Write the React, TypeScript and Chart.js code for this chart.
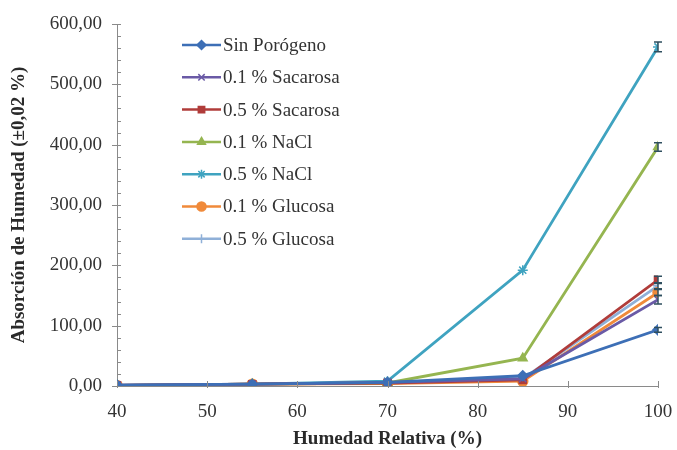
import React, { useEffect, useRef } from "react";
import { Chart, registerables } from "chart.js";
import { drawPoint } from "chart.js/helpers";

Chart.register(...registerables);

const humedad = [40, 55, 70, 85, 100];
const seriesNames = [
  "Sin Porógeno",
  "0.1 % Sacarosa",
  "0.5 % Sacarosa",
  "0.1 % NaCl",
  "0.5 % NaCl",
  "0.1 % Glucosa",
  "0.5 % Glucosa",
];
const sinPorogeno = [1.5, 3, 6, 17, 93];
const sacarosa01 = [1.5, 3, 6, 12, 143];
const sacarosa05 = [1, 3, 5, 10, 176];
const nacl01 = [1, 3, 5, 46, 396];
const nacl05 = [1, 3, 8, 192, 562];
const glucosa01 = [1, 3, 4, 8, 155];
const glucosa05 = [1, 3, 5, 12, 166];
const errors100 = [4, 7, 6, 7, 8, 5, 5];
const yTickValues = [0, 100, 200, 300, 400, 500, 600];
const xTickValues = [40, 50, 60, 70, 80, 90, 100];

const colors = ["#3D6FB6", "#6A5AA6", "#B03C3A", "#95B550", "#3FA3C0", "#F08A3A", "#8FB0D8"];
const pointStyles = ["rectRot", "crossRot", "rect", "triangle", "star", "circle", "cross"];
const allSeries = [sinPorogeno, sacarosa01, sacarosa05, nacl01, nacl05, glucosa01, glucosa05];

const SERIF = "'Liberation Serif', 'Times New Roman', serif";
const TEXT = "#333333";

const extrasPlugin = {
  id: "extras",
  afterDatasetsDraw(chart: any) {
    const ctx = chart.ctx;
    const xs = chart.scales.x;
    const ys = chart.scales.y;
    chart.data.datasets.forEach((ds: any, i: number) => {
      const last = ds.data[ds.data.length - 1];
      const px = xs.getPixelForValue(last.x);
      const top = ys.getPixelForValue(last.y + errors100[i]);
      const bot = ys.getPixelForValue(last.y - errors100[i]);
      ctx.save();
      ctx.strokeStyle = "#2f4f5f";
      ctx.lineWidth = 1.5;
      ctx.beginPath();
      ctx.moveTo(px, top);
      ctx.lineTo(px, bot);
      ctx.moveTo(px - 4, top);
      ctx.lineTo(px + 4, top);
      ctx.moveTo(px - 4, bot);
      ctx.lineTo(px + 4, bot);
      ctx.stroke();
      ctx.restore();
    });
  },
  afterDraw(chart: any) {
    const ctx = chart.ctx;
    const xs = chart.scales.x;
    const ys = chart.scales.y;
    const area = chart.chartArea;
    ctx.save();
    ctx.strokeStyle = "#8a8a8a";
    ctx.lineWidth = 1;
    ctx.beginPath();
    for (let v = 0; v <= 600; v += 20) {
      const py = Math.round(ys.getPixelForValue(v)) + 0.5;
      const major = v % 100 === 0;
      ctx.moveTo(area.left - (major ? 5 : 0), py);
      ctx.lineTo(area.left + 4, py);
    }
    xTickValues.forEach((v) => {
      const px = Math.round(xs.getPixelForValue(v)) + 0.5;
      ctx.moveTo(px, area.bottom - 5);
      ctx.lineTo(px, area.bottom + 2);
    });
    ctx.stroke();
    ctx.restore();

    // legend
    const lx = 182;
    const ly0 = 45;
    const dy = 32.3;
    ctx.save();
    ctx.font = `19px ${SERIF}`;
    ctx.textBaseline = "middle";
    chart.data.datasets.forEach((ds: any, i: number) => {
      const y = ly0 + i * dy;
      ctx.strokeStyle = ds.borderColor;
      ctx.lineWidth = 2.5;
      ctx.beginPath();
      ctx.moveTo(lx, y);
      ctx.lineTo(lx + 39, y);
      ctx.stroke();
      ctx.fillStyle = ds.borderColor;
      ctx.lineWidth = 1.5;
      drawPoint(
        ctx,
        { pointStyle: ds.pointStyle, radius: 4.5, borderWidth: 1.5, rotation: 0 },
        lx + 19.5,
        y
      );
      ctx.fillStyle = TEXT;
      ctx.fillText(ds.label, lx + 41, y + 1);
    });
    ctx.restore();
  },
};

export default function App() {
  const ref = useRef<HTMLCanvasElement | null>(null);
  useEffect(() => {
    if (!ref.current) return;
    const datasets = allSeries.map((vals, i) => ({
      label: seriesNames[i],
      data: vals.map((v, j) => ({ x: humedad[j], y: v })),
      borderColor: colors[i],
      backgroundColor: colors[i],
      pointBackgroundColor: colors[i],
      pointBorderColor: colors[i],
      pointStyle: pointStyles[i],
      pointRadius: 5,
      pointBorderWidth: 1.5,
      borderWidth: 2.8,
      tension: 0,
    }));
    const chart = new Chart(ref.current, {
      type: "line",
      data: { datasets },
      options: {
        animation: false,
        responsive: false,
        layout: { padding: { top: 24, right: 19, left: 8, bottom: 0 } },
        plugins: { legend: { display: false }, tooltip: { enabled: false } },
        scales: {
          x: {
            type: "linear",
            min: 40,
            max: 100,
            afterFit: (s: any) => {
              s.height = 64;
              s.paddingLeft = 0;
              s.paddingRight = 0;
            },
            afterBuildTicks: (s: any) => {
              s.ticks = xTickValues.map((v) => ({ value: v }));
            },
            grid: { display: true, drawOnChartArea: false, drawTicks: false },
            border: { display: true, color: "#8a8a8a", width: 1 },
            ticks: {
              padding: 15,
              color: TEXT,
              font: { family: SERIF, size: 19 },
            },
            title: {
              display: true,
              text: "Humedad Relativa (%)",
              color: "#2a2a2a",
              font: { family: SERIF, size: 19, weight: "bold" },
              padding: { top: 4, bottom: 0 },
            },
          },
          y: {
            type: "linear",
            min: 0,
            max: 600,
            afterFit: (s: any) => {
              s.width = 109;
              s.paddingTop = 0;
              s.paddingBottom = 0;
            },
            afterBuildTicks: (s: any) => {
              s.ticks = yTickValues.map((v) => ({ value: v }));
            },
            grid: { display: true, drawOnChartArea: false, drawTicks: false },
            border: { display: true, color: "#8a8a8a", width: 1 },
            ticks: {
              padding: 15,
              color: TEXT,
              font: { family: SERIF, size: 19 },
              callback: (v: any) => Number(v).toFixed(2).replace(".", ","),
            },
            title: {
              display: true,
              text: "Absorción de Humedad (±0,02 %)",
              color: "#2a2a2a",
              font: { family: SERIF, size: 19, weight: "bold" },
              padding: { top: 0, bottom: 0 },
            },
          },
        },
      },
      plugins: [extrasPlugin],
    } as any);
    return () => chart.destroy();
  }, []);
  return (
    <div style={{ position: "fixed", left: 0, top: 0, width: 677, height: 450, background: "#fff" }}>
      <canvas ref={ref} width={677} height={450} style={{ width: 677, height: 450, display: "block" }} />
    </div>
  );
}
